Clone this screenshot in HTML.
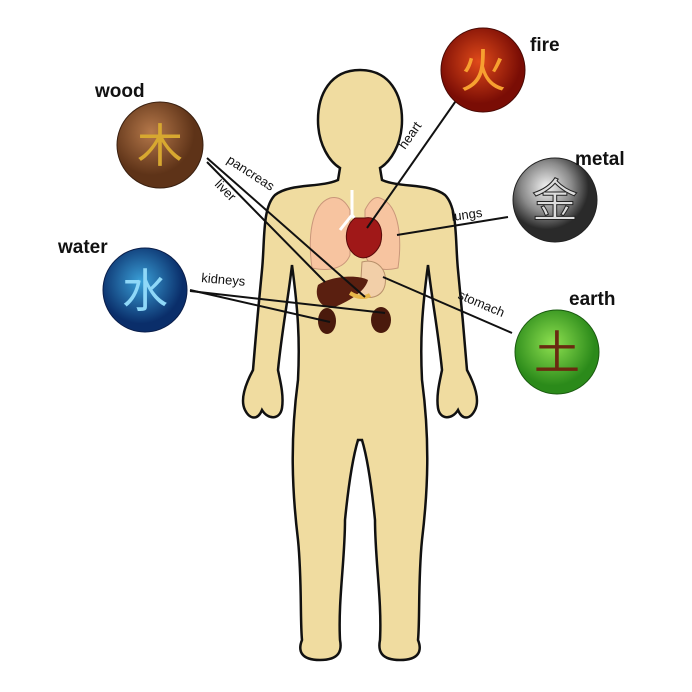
<!DOCTYPE html>
<html><head><style>body{margin:0;background:#fff}svg{display:block}text{font-family:"Liberation Sans","Noto Sans CJK SC",sans-serif}</style></head>
<body>
<svg width="692" height="692" viewBox="0 0 692 692">
<defs>
<radialGradient id="gw" cx="40%" cy="35%"><stop offset="0" stop-color="#b5784a"/><stop offset="1" stop-color="#5e3318"/></radialGradient>
<radialGradient id="gf" cx="45%" cy="40%"><stop offset="0" stop-color="#e04a1a"/><stop offset="1" stop-color="#7a0d05"/></radialGradient>
<radialGradient id="gm" cx="40%" cy="35%"><stop offset="0" stop-color="#f4f4f4"/><stop offset="0.6" stop-color="#8a8a8a"/><stop offset="1" stop-color="#2a2a2a"/></radialGradient>
<radialGradient id="ga" cx="45%" cy="40%"><stop offset="0" stop-color="#3aa0d8"/><stop offset="1" stop-color="#0a2e6a"/></radialGradient>
<radialGradient id="ge" cx="45%" cy="40%"><stop offset="0" stop-color="#8ee050"/><stop offset="1" stop-color="#2b8a1a"/></radialGradient>
</defs>
<path d="M360 70 C330 70 318 95 318 120 C318 145 330 162 340 168 L338 180 C320 188 290 183 275 195 C262 208 265 240 262 270 C258 310 255 345 253 370 C245 385 240 400 245 410 C250 420 258 420 262 410 C268 420 280 420 282 408 C284 395 280 380 278 370 C282 330 288 300 292 265 C298 310 300 340 298 380 C290 440 292 490 298 540 C302 580 300 620 302 640 C298 650 300 660 320 660 C340 660 342 650 340 640 C338 600 345 560 345 520 C348 490 352 460 358 440 L362 440 C368 460 372 490 375 520 C375 560 382 600 380 640 C378 650 380 660 400 660 C420 660 422 650 418 640 C420 620 418 580 422 540 C428 490 430 440 422 380 C420 340 422 310 428 265 C432 300 438 330 442 370 C440 380 436 395 438 408 C440 420 452 420 458 410 C462 420 470 420 475 410 C480 400 475 385 467 370 C465 345 462 310 458 270 C455 240 458 208 445 195 C430 183 400 188 382 180 L380 168 C390 162 402 145 402 120 C402 95 390 70 360 70 Z" fill="#f0dca0" stroke="#111" stroke-width="2.5"/>
<path d="M330 198 C310 205 308 240 312 268 C330 272 345 268 350 255 L350 210 C345 200 338 196 330 198Z" fill="#f7c4a0" stroke="#c9967a"/>
<path d="M380 198 C400 205 402 240 398 268 C380 272 370 268 365 255 L365 210 C370 200 375 196 380 198Z" fill="#f7c4a0" stroke="#c9967a"/>
<path d="M352 190 L352 215 M340 230 L352 215 L360 225" stroke="#fff" stroke-width="3" fill="none"/>
<path d="M355 218 C345 225 342 245 355 255 C365 262 375 255 380 245 C385 230 378 215 365 218Z" fill="#a01818" stroke="#5a0a0a"/>
<path d="M362 262 C375 258 388 268 385 285 C382 298 368 300 360 295 Z" fill="#f2cfa8" stroke="#b8906a"/>
<path d="M318 285 C330 276 358 274 368 280 C365 292 348 302 332 308 C320 308 314 296 318 285Z" fill="#5a1f10"/>
<path d="M350 293 C358 298 365 298 370 295" stroke="#e8b84a" stroke-width="4" fill="none"/>
<ellipse cx="327" cy="321" rx="9" ry="13" fill="#4a1a0c"/>
<ellipse cx="381" cy="320" rx="10" ry="13" fill="#4a1a0c"/>
<g stroke="#111" stroke-width="2" fill="none">
<line x1="207" y1="158" x2="365" y2="297"/>
<line x1="207" y1="162" x2="325" y2="282"/>
<line x1="460" y1="95" x2="367" y2="228"/>
<line x1="397" y1="235" x2="508" y2="217"/>
<line x1="383" y1="277" x2="512" y2="333"/>
<line x1="190" y1="290" x2="330" y2="322"/>
<line x1="190" y1="291" x2="385" y2="313"/>
</g>
<g font-size="13" fill="#111">
<text transform="translate(226,162) rotate(33)">pancreas</text>
<text transform="translate(214,185) rotate(45)">liver</text>
<text transform="translate(405,150) rotate(-55)">heart</text>
<text transform="translate(452,221) rotate(-8)">lungs</text>
<text transform="translate(457,298) rotate(23)">stomach</text>
<text transform="translate(201,282) rotate(5)">kidneys</text>
</g>
<circle cx="160" cy="145" r="43" fill="url(#gw)" stroke="#3a2010"/>
<text x="160" y="162" font-size="46" fill="#d7a830" text-anchor="middle">木</text>
<circle cx="483" cy="70" r="42" fill="url(#gf)" stroke="#4a0a05"/>
<text x="483" y="87" font-size="46" fill="#f7a030" text-anchor="middle">火</text>
<circle cx="555" cy="200" r="42" fill="url(#gm)" stroke="#222"/>
<text x="555" y="217" font-size="46" fill="#ddd" stroke="#222" stroke-width="1" text-anchor="middle">金</text>
<circle cx="145" cy="290" r="42" fill="url(#ga)" stroke="#0a1e4a"/>
<text x="145" y="307" font-size="46" fill="#8fd8f8" text-anchor="middle">水</text>
<circle cx="557" cy="352" r="42" fill="url(#ge)" stroke="#1a5a10"/>
<text x="557" y="369" font-size="46" fill="#6a2a10" text-anchor="middle">土</text>
<g font-size="19" font-weight="bold" fill="#111">
<text x="95" y="97">wood</text>
<text x="530" y="51">fire</text>
<text x="575" y="165">metal</text>
<text x="58" y="253">water</text>
<text x="569" y="305">earth</text>
</g>
</svg>
</body></html>
